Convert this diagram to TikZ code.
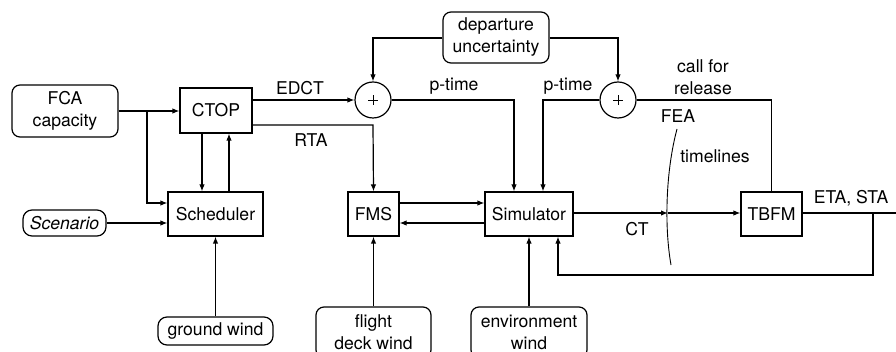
\documentclass[tikz,border=0pt]{standalone}
\usepackage{fontspec}
\setmainfont{TeX Gyre Heros}
\usetikzlibrary{arrows.meta}
\begin{document}
\begin{tikzpicture}[x=1pt,y=-1pt,
  every node/.style={font=\fontsize{17.6}{22}\selectfont, inner sep=0pt, align=center},
  blk/.style={draw, line width=1.2pt, rectangle},
  rbox/.style={draw, line width=1.2pt, rectangle, rounded corners=8pt},
  sumc/.style={draw, line width=1.2pt, circle, minimum size=36pt},
  conn/.style={line width=1.2pt},
  arr/.style={line width=1.2pt, -{Latex[length=7pt,width=5.5pt]}},
  lbl/.style={}]
\useasboundingbox (0,0) rectangle (896,352);
\clip (0,0) rectangle (896,352);
% nodes
\node[rbox, minimum width=106pt, minimum height=52pt] (fca) at (65,111) {FCA\\capacity};
\node[blk, minimum width=72pt, minimum height=45pt] (ctop) at (216,110.5) {CTOP};
\node[rbox, minimum width=106pt, minimum height=51pt] (dep) at (496,37.5) {departure\\uncertainty};
\node[sumc] (s1) at (373,100) {};
\node[sumc] (s2) at (618,100) {};
\node[blk, minimum width=95pt, minimum height=44pt] (sched) at (215.5,214) {Scheduler};
\node[rbox, minimum width=83pt, minimum height=26pt, rounded corners=9pt] (scen) at (64.5,223) {\itshape Scenario};
\node[rbox, minimum width=115pt, minimum height=28pt, rounded corners=9pt] (gw) at (215.5,331) {ground wind};
\node[blk, minimum width=51pt, minimum height=44pt] (fms) at (373.5,214) {FMS};
\node[rbox, minimum width=115pt, minimum height=51pt] (fdw) at (373.5,332.5) {flight\\deck wind};
\node[blk, minimum width=88pt, minimum height=44pt] (sim) at (529,214) {Simulator};
\node[rbox, minimum width=116pt, minimum height=51pt] (ew) at (529,332.5) {environment\\wind};
\node[blk, minimum width=61pt, minimum height=44pt] (tbfm) at (771.5,214) {TBFM};
% plus signs
\draw[line width=0.5pt] ([xshift=-5pt]s1.center) -- ([xshift=5pt]s1.center) ([yshift=-5pt]s1.center) -- ([yshift=5pt]s1.center);
\draw[line width=0.5pt] ([xshift=-5pt]s2.center) -- ([xshift=5pt]s2.center) ([yshift=-5pt]s2.center) -- ([yshift=5pt]s2.center);
% coordinates
\coordinate (fcab) at (147,111);
\coordinate (outr) at (900,213);
\coordinate (fb) at (873,213);
\coordinate (ctmid) at (668,213);
% connectors
\draw[arr] (fca.east |- 0,111) -- (ctop.west |- 0,111);
\draw[arr] (fcab) -- (147,203) -- (sched.west |- 0,203);
\draw[arr] (scen.east) -- (sched.west |- scen.east);
\draw[arr] (202,0 |- ctop.south) -- (202,0 |- sched.north);
\draw[arr] (229,0 |- sched.north) -- (229,0 |- ctop.south);
\draw[arr] (gw.north) -- (sched.south);
\draw[arr] (ctop.east |- s1.west) -- (s1.west);
\draw[arr] (ctop.east |- 0,125) -- (373,125) -- (fms.north);
\draw[arr] (dep.west |- 0,38) -- (s1.north |- 0,38) -- (s1.north);
\draw[arr] (dep.east |- 0,38) -- (s2.north |- 0,38) -- (s2.north);
\draw[arr] (s1.east) -- (514,100) -- (514,0 |- sim.north);
\draw[arr] (s2.west) -- (543,100) -- (543,0 |- sim.north);
\draw[conn] (s2.east) -- (771.5,100) -- (tbfm.north);
\draw[arr] (fms.east |- 0,203) -- (sim.west |- 0,203);
\draw[arr] (sim.west |- 0,223) -- (fms.east |- 0,223);
\draw[line width=1.8pt, -{Latex[length=7pt,width=5.5pt]}] (sim.east |- 0,213) -- (ctmid);
\draw[arr] (ctmid) -- (tbfm.west |- 0,213);
\draw[conn] (tbfm.east |- 0,213) -- (outr);
\draw[arr] (fb) -- (873,275) -- (558,275) -- (558,0 |- sim.south);
\draw[arr] (fdw.north) -- (fms.south);
\draw[arr] (ew.north) -- (sim.south);
\draw[line width=0.9pt] (677,129) .. controls (666,170) and (664,225) .. (671,265);
% labels
\node (lEDCT) at (300,88) {EDCT};
\node (lRTA) at (311,140) {RTA};
\node (lpt1) at (454,86) {p-time};
\node (lpt2) at (568,86) {p-time};
\node (lcall) at (703,77) {call for\\release};
\node (lFEA) at (678,116) {FEA};
\node (ltl) at (715,156) {timelines};
\node (lCT) at (637,229) {CT};
\node (lETA) at (851,198) {ETA, STA};
\end{tikzpicture}
\end{document}
